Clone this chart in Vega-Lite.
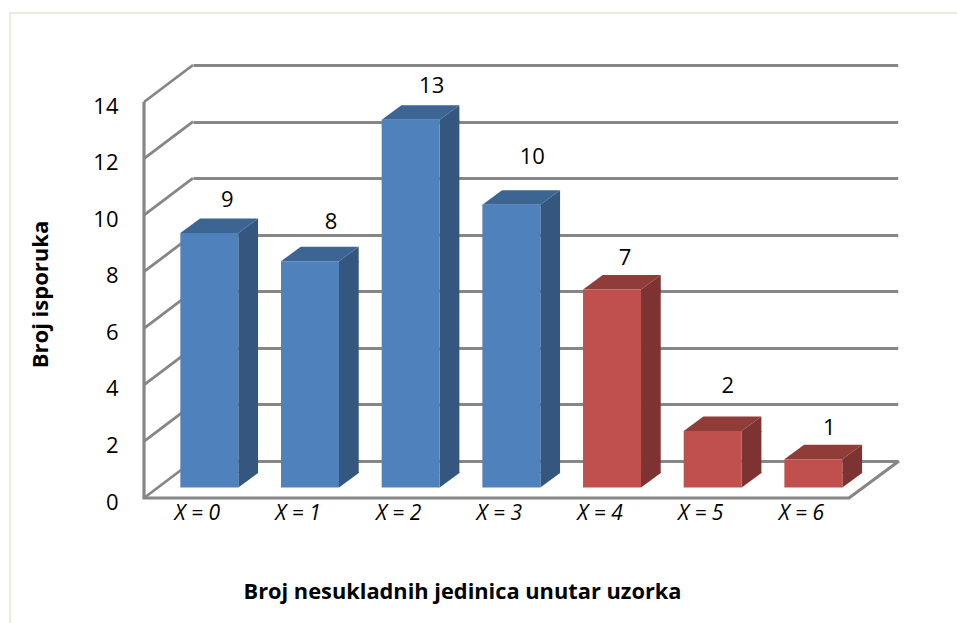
{
"$schema":"https://vega.github.io/schema/vega-lite/v6.json",
"width":706,"height":396,
"autosize":{"type":"none"},
"padding":{"left":193,"top":65,"right":58,"bottom":162},
"background":"white",
"view":{"stroke":null},
"config":{"font":"Open Sans"},
"datasets":{
"bars":[
{"x":"X = 0","n":9,"region":"prihvat"},
{"x":"X = 1","n":8,"region":"prihvat"},
{"x":"X = 2","n":13,"region":"prihvat"},
{"x":"X = 3","n":10,"region":"prihvat"},
{"x":"X = 4","n":7,"region":"odbijanje"},
{"x":"X = 5","n":2,"region":"odbijanje"},
{"x":"X = 6","n":1,"region":"odbijanje"}],
"ticks":[{"t":0},{"t":2},{"t":4},{"t":6},{"t":8},{"t":10},{"t":12},{"t":14}]
},
"resolve":{"scale":{"color":"independent"}},
"layer":[
{"data":{"name":"ticks"},
 "transform":[{"filter":"datum.t==14"}],
 "mark":{"type":"point","filled":false,"size":4,"stroke":"#ecebdf","strokeWidth":2,"opacity":1,"shape":"M-183,558L-183,-52L764,-52"},
 "encoding":{
  "x":{"datum":"X = 0","bandPosition":0,"type":"nominal","scale":{"type":"band","domain":["X = 0","X = 1","X = 2","X = 3","X = 4","X = 5","X = 6"],"range":[0,704.7],"paddingInner":0,"paddingOuter":0},
   "axis":{"title":"Broj nesukladnih jedinica unutar uzorka","orient":"bottom","domain":false,"ticks":false,"grid":false,"labelAngle":0,"labelOffset":-46,"offset":41,"labelPadding":0,"labelFontSize":21,"labelFontStyle":"italic","labelColor":"#000","labelBaseline":"top","titleFontSize":21.8,"titleFontWeight":"bold","titleColor":"#000","titleX":269,"titleY":89,"titleAnchor":"middle","titleBaseline":"middle"}},
  "y":{"field":"t","type":"quantitative","scale":{"domain":[0,14],"nice":false},
   "axis":{"title":"Broj isporuka","values":[0,2,4,6,8,10,12,14],"domain":false,"ticks":false,"grid":true,"gridColor":"#868686","gridWidth":2.8,"offset":75,"labelOffset":41,"labelPadding":0,"labelFontSize":22,"labelColor":"#000","titleFontSize":22,"titleFontWeight":"bold","titleColor":"#000","titleX":-78,"titleY":229,"titleAnchor":"middle","titleBaseline":"middle"}}
 }},
{"data":{"name":"ticks"},
 "mark":{"type":"point","filled":false,"size":4,"stroke":"#868686","strokeWidth":2.8,"opacity":1,"shape":"M0,0L-49,37"},
 "encoding":{"x":{"datum":"X = 0","bandPosition":0,"type":"nominal"},"y":{"field":"t","type":"quantitative"}}},
{"data":{"name":"ticks"},
 "transform":[{"filter":"datum.t==0"}],
 "mark":{"type":"point","filled":false,"size":4,"stroke":"#868686","strokeWidth":3.2,"opacity":1,"shape":"M-49,-359L-49,37L656,37L706,0"},
 "encoding":{"x":{"datum":"X = 0","bandPosition":0,"type":"nominal"},"y":{"field":"t","type":"quantitative"}}},
{"data":{"name":"bars"},
 "mark":{"type":"bar","width":19.7,"xOffset":4.85,"yOffset":26.5,"y2Offset":12},
 "encoding":{"x":{"field":"x","type":"nominal"},"y":{"field":"n","type":"quantitative","stack":null},"y2":{"datum":0},
  "color":{"field":"region","type":"nominal","scale":{"domain":["prihvat","odbijanje"],"range":["#34567f","#7d3331"]},"legend":null}}},
{"data":{"name":"bars"},
 "mark":{"type":"point","filled":true,"size":4,"opacity":1,"xOffset":-34,"yOffset":26.5,"shape":"M29,0L48.7,-14.5L48.7,1L29,1Z"},
 "encoding":{"x":{"field":"x","type":"nominal"},"y":{"field":"n","type":"quantitative"},
  "color":{"field":"region","type":"nominal","scale":{"domain":["prihvat","odbijanje"],"range":["#34567f","#7d3331"]},"legend":null}}},
{"data":{"name":"bars"},
 "mark":{"type":"point","filled":true,"size":4,"opacity":1,"xOffset":-34,"yOffset":26.5,"shape":"M29,0L29,-15.5L48.7,-15.5L48.7,-14.5Z"},
 "encoding":{"x":{"field":"x","type":"nominal"},"y":{"datum":0,"type":"quantitative"},
  "color":{"field":"region","type":"nominal","scale":{"domain":["prihvat","odbijanje"],"range":["#34567f","#7d3331"]},"legend":null}}},
{"data":{"name":"bars"},
 "mark":{"type":"point","filled":true,"size":4,"opacity":1,"xOffset":-34,"yOffset":26.5,"shape":"M-29,0L-9.3,-14.5L48.7,-14.5L29,0Z"},
 "encoding":{"x":{"field":"x","type":"nominal"},"y":{"field":"n","type":"quantitative"},
  "color":{"field":"region","type":"nominal","scale":{"domain":["prihvat","odbijanje"],"range":["#3d6594","#903d3a"]},"legend":null}}},
{"data":{"name":"bars"},
 "mark":{"type":"bar","width":58,"xOffset":-34,"yOffset":26.5,"y2Offset":26.5},
 "encoding":{"x":{"field":"x","type":"nominal"},"y":{"field":"n","type":"quantitative","stack":null},"y2":{"datum":0},
  "color":{"field":"region","type":"nominal","scale":{"domain":["prihvat","odbijanje"],"range":["#4f81bd","#c0504d"]},"legend":null}}},
{"data":{"name":"bars"},"transform":[{"filter":"datum.n==9"}],
 "mark":{"type":"text","fontSize":22,"color":"#000","xOffset":-16,"yOffset":-6,"baseline":"middle","align":"center"},
 "encoding":{"x":{"field":"x","type":"nominal"},"y":{"field":"n","type":"quantitative"},"text":{"field":"n","type":"quantitative"}}},
{"data":{"name":"bars"},"transform":[{"filter":"datum.n==8"}],
 "mark":{"type":"text","fontSize":22,"color":"#000","xOffset":-13,"yOffset":-13,"baseline":"middle","align":"center"},
 "encoding":{"x":{"field":"x","type":"nominal"},"y":{"field":"n","type":"quantitative"},"text":{"field":"n","type":"quantitative"}}},
{"data":{"name":"bars"},"transform":[{"filter":"datum.n==13"}],
 "mark":{"type":"text","fontSize":22,"color":"#000","xOffset":-13,"yOffset":-7,"baseline":"middle","align":"center"},
 "encoding":{"x":{"field":"x","type":"nominal"},"y":{"field":"n","type":"quantitative"},"text":{"field":"n","type":"quantitative"}}},
{"data":{"name":"bars"},"transform":[{"filter":"datum.n==10"}],
 "mark":{"type":"text","fontSize":22,"color":"#000","xOffset":-13,"yOffset":-21,"baseline":"middle","align":"center"},
 "encoding":{"x":{"field":"x","type":"nominal"},"y":{"field":"n","type":"quantitative"},"text":{"field":"n","type":"quantitative"}}},
{"data":{"name":"bars"},"transform":[{"filter":"datum.n==7"}],
 "mark":{"type":"text","fontSize":22,"color":"#000","xOffset":-21,"yOffset":-5.5,"baseline":"middle","align":"center"},
 "encoding":{"x":{"field":"x","type":"nominal"},"y":{"field":"n","type":"quantitative"},"text":{"field":"n","type":"quantitative"}}},
{"data":{"name":"bars"},"transform":[{"filter":"datum.n==2"}],
 "mark":{"type":"text","fontSize":22,"color":"#000","xOffset":-19,"yOffset":-18.5,"baseline":"middle","align":"center"},
 "encoding":{"x":{"field":"x","type":"nominal"},"y":{"field":"n","type":"quantitative"},"text":{"field":"n","type":"quantitative"}}},
{"data":{"name":"bars"},"transform":[{"filter":"datum.n==1"}],
 "mark":{"type":"text","fontSize":22,"color":"#000","xOffset":-18,"yOffset":-4.5,"baseline":"middle","align":"center"},
 "encoding":{"x":{"field":"x","type":"nominal"},"y":{"field":"n","type":"quantitative"},"text":{"field":"n","type":"quantitative"}}}
]
}
